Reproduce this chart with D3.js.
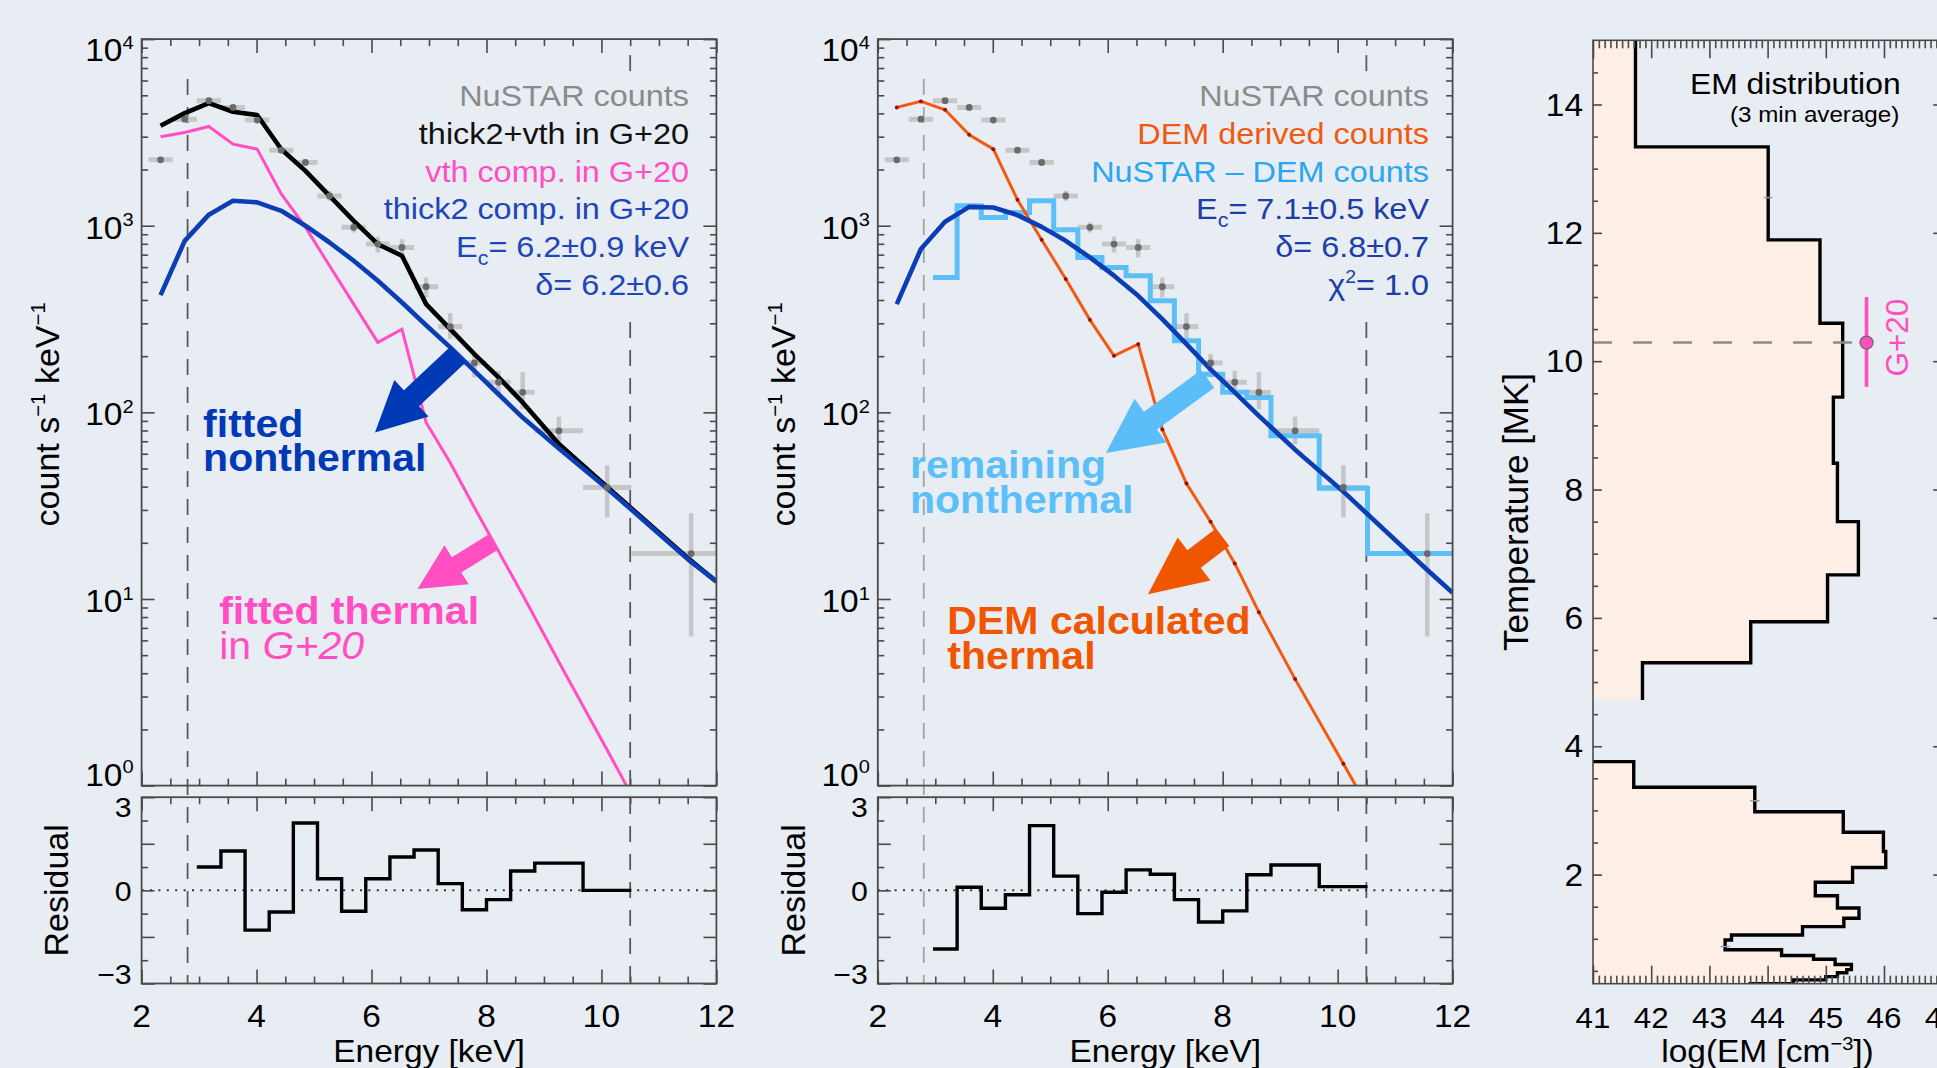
<!DOCTYPE html>
<html><head><meta charset="utf-8">
<script src="https://cdn.jsdelivr.net/npm/d3@7"></script>
<style>
html,body{margin:0;padding:0;background:#e8ecf3;}
svg{display:block;font-family:"Liberation Sans",Arial,Helvetica,sans-serif;}
</style></head>
<body><svg id="fig" width="1937" height="1068"></svg>
<script>
// ---------------- spectral binning (keV) ----------------
const binCenter = [2.33, 2.75, 3.17, 3.59, 4.01, 4.43, 4.85, 5.27, 5.69, 6.11, 6.53, 6.95, 7.37, 7.79, 8.21, 8.63, 9.26, 10.10, 11.56];
const binLo     = [2.12, 2.54, 2.96, 3.38, 3.80, 4.22, 4.64, 5.06, 5.48, 5.90, 6.32, 6.74, 7.16, 7.58, 8.00, 8.42, 8.84, 9.68, 10.52];
const binHi     = [2.54, 2.96, 3.38, 3.80, 4.22, 4.64, 5.06, 5.48, 5.90, 6.32, 6.74, 7.16, 7.58, 8.00, 8.42, 8.84, 9.68, 10.52, 12.60];

// NuSTAR count spectrum [counts s^-1 keV^-1] and its 1-sigma range
const nustarRate = [2254, 3725, 4677, 4306, 3681, 2541, 2183, 1445, 980, 797, 765, 471, 288, 184, 145, 128, 79.6, 39.6, 17.5];
const nustarLow  = [2190, 3630, 4560, 4190, 3570, 2450, 2100, 1362, 921, 719, 676, 413, 247, 154, 124, 104, 67.6, 27.4, 6.3];
const nustarHigh = [2320, 3820, 4800, 4420, 3790, 2630, 2270, 1538, 1042, 875, 847, 528, 340, 205, 167, 164, 94.6, 52.0, 28.8];

// model curves evaluated at these energies
const modelEnergy = [2.33, 2.75, 3.17, 3.59, 4.01, 4.43, 4.85, 5.27, 5.69, 6.11, 6.53, 6.95, 7.37, 7.79, 8.21, 8.63, 9.26, 10.10, 11.56, 12.0];

// left: G+20 fit (thick2 + vth)
const fitTotal   = [3436, 4010, 4540, 4080, 3920, 2570, 1968, 1446, 1062, 796, 690, 380, 279, 205, 154, 113, 67.6, 39.8, 16.0, 12.4];
const fitThermal = [3000, 3162, 3404, 2737, 2573, 1480, 982, 610, 380, 237, 279, 88.3, 53.7, 30.9, 18.0, 10.5, 4.6, 1.55, 0.23];
const fitThick2  = [425, 830, 1146, 1361, 1334, 1202, 1000, 813, 649, 507, 388, 293, 223, 167, 125, 93.8, 64.1, 39.1, 15.8, 12.4];

// middle: DEM-derived thermal counts and thick2 fit to the remainder
const demCounts    = [4305, 4637, 4180, 3071, 2573, 1377, 842, 518, 313, 201, 232, 81.0, 41.6, 25.9, 15.5, 8.5, 3.72, 1.31, 0.21];
const demThick2    = [380, 750, 1050, 1262, 1253, 1140, 986, 830, 676, 540, 421, 316, 232, 170, 128, 95.7, 63.1, 37.6, 14.3, 10.8];
const firstFitBin  = 2;   // fits use bins from 2.96 keV on
const nustarMinusDem = [528, 1279, 1107, 1178, 1361, 951, 676, 598, 539, 396, 242, 160, 128, 120, 75.0, 39.2, 17.5];

// normalised residuals, bins 2.96 - 10.52 keV
const residualG20 = [1.00, 1.69, -1.71, -0.93, 2.89, 0.50, -0.90, 0.50, 1.43, 1.73, 0.29, -0.83, -0.40, 0.83, 1.17, 0.00];
const residualDem = [-2.52, 0.13, -0.77, -0.19, 2.78, 0.61, -1.00, -0.08, 0.88, 0.69, -0.40, -1.36, -0.88, 0.67, 1.09, 0.16];

// fit range limits (keV)
const fitRange = [2.8, 10.5];

// ---------------- EM distribution ----------------
// temperature bin edges [MK], top to bottom, and log EM of each bin (null = below 10^41)
const tempEdges = [15, 13.34, 11.89, 10.59, 9.44, 8.41, 7.50, 6.67, 5.94, 5.30, 4.72, 3.76, 3.36, 2.98, 2.66, 2.36, 2.11, 1.88, 1.67, 1.48, 1.32, 1.19, 1.06, 0.98, 0.83, 0.74, 0.68, 0.60, 0.52, 0.47, 0.41, 0.36, 0.30, 0.25];
const logEM = [41.73, 44.01, 44.90, 45.29, 45.13, 45.20, 45.56, 45.03, 43.71, 41.85, null, 41.70, 43.78, 45.30, 45.99, 46.03, 45.46, 44.82, 45.20, 45.57, 45.31, 44.60, 43.38, 43.27, 44.24, 44.79, 45.16, 45.44, 45.36, 45.20, 45.00, 44.44, 43.70];
const emErrBars = [{em: 44.01, t: 12.55, d: 0.07}, {em: 43.78, t: 3.15, d: 0.08}, {em: 43.27, t: 0.88, d: 0.08}];
const g20Temp = {em: 45.70, t: 10.29, lo: 9.60, hi: 11.00};

const decades = [1, 10, 100, 1000, 10000];
const energyTicks = [2, 4, 6, 8, 10, 12];
const tempTicks = [2, 4, 6, 8, 10, 12, 14];
const emTicks = [41, 42, 43, 44, 45, 46, 47];

// ---------------- styling ----------------
const AX = "#4a4a4a";
const C = {
  gray: "#8a8a8a", err: "#c6c6c8", dot: "#6a6a6a",
  black: "#000", pink: "#ff4fc2", blue: "#0b3db4", blueText: "#1f46b8",
  orange: "#f25a12", orangeText: "#f05a10", node: "#9a1208",
  light: "#5cbff8", lightText: "#2ba6f0", darkBlueText: "#1c3ea6",
  fill: "#fdeee6"
};
const SX = 1.08;

const svg = d3.select("#fig");
const defs = svg.append("defs");

function rich(parent, x, y, parts, o) {
  const fs = o.size;
  const sx = o.sx === undefined ? SX : o.sx;
  const tr = `translate(${x},${y})` + (o.rotate ? ` rotate(${o.rotate})` : "") + ` scale(${sx},1)`;
  const t = parent.append("text")
    .attr("transform", tr)
    .attr("text-anchor", o.anchor || "start")
    .attr("font-size", fs)
    .attr("fill", o.color || "#000")
    .attr("font-weight", o.bold ? "bold" : null);
  let shift = 0;
  for (const p of parts) {
    const s = t.append("tspan").text(p.t);
    let target = 0, size = fs;
    if (p.sup) { target = -fs * 0.40; size = fs * 0.60; }
    if (p.sub) { target = fs * 0.26; size = fs * 0.66; }
    s.attr("dy", target - shift).attr("font-size", size);
    if (p.italic) s.attr("font-style", "italic");
    if (p.bold === true) s.attr("font-weight", "bold");
    if (p.bold === false) s.attr("font-weight", "normal");
    shift = target;
  }
  return t;
}

function tickAxis(g, axisFn, scale, values, size, transform) {
  g.append("g").attr("transform", transform)
    .call(axisFn(scale).tickValues(values).tickSize(-size).tickFormat(""))
    .call(s => s.select(".domain").remove())
    .call(s => s.selectAll("line").attr("stroke", AX).attr("stroke-width", 1.6));
}

function arrowPath(x1, y1, x2, y2, shaft, headW, headL) {
  const dx = x2 - x1, dy = y2 - y1, L = Math.hypot(dx, dy);
  const ux = dx / L, uy = dy / L, px = -uy, py = ux;
  const bx = x2 - ux * headL, by = y2 - uy * headL, s = shaft / 2, h = headW / 2;
  return d3.line()([
    [x1 + px * s, y1 + py * s], [bx + px * s, by + py * s], [bx + px * h, by + py * h],
    [x2, y2], [bx - px * h, by - py * h], [bx - px * s, by - py * s], [x1 - px * s, y1 - py * s]
  ]) + "Z";
}

// ---------------- spectral panels ----------------
const MAIN_TOP = 39.1, MAIN_BOT = 785.6, RES_TOP = 797.2, RES_BOT = 983.5;
const LEGEND_TOP = 76, LEGEND_BOT = 320;

function spectrumPanel(p) {
  const g = svg.append("g");
  const x = d3.scaleLinear([2, 12], [p.x0, p.x1]);
  const y = d3.scaleLog([1, 1e4], [MAIN_BOT, MAIN_TOP]);
  const yr = d3.scaleLinear([-4, 4], [RES_BOT, RES_TOP]);

  const cm = "clipm-" + p.id, cr = "clipr-" + p.id;
  defs.append("clipPath").attr("id", cm).append("rect")
    .attr("x", p.x0).attr("y", MAIN_TOP).attr("width", p.x1 - p.x0).attr("height", MAIN_BOT - MAIN_TOP);
  defs.append("clipPath").attr("id", cr).append("rect")
    .attr("x", p.x0).attr("y", RES_TOP).attr("width", p.x1 - p.x0).attr("height", RES_BOT - RES_TOP);

  // fit-range markers (the upper one stops short of the legend block)
  fitRange.forEach((e, i) => {
    const segs = i === 0
      ? [[MAIN_TOP + 40, RES_BOT]]
      : [[MAIN_TOP + 16, MAIN_TOP + 35], [LEGEND_BOT + 2, RES_BOT]];
    segs.forEach(([a, b]) => {
      g.append("line").attr("x1", x(e)).attr("x2", x(e)).attr("y1", a).attr("y2", b)
        .attr("stroke", p.rangeColors[i]).attr("stroke-width", 1.8).attr("stroke-dasharray", "16,12");
    });
  });

  const mg = g.append("g").attr("clip-path", `url(#${cm})`);
  // data error crosses
  binCenter.forEach((e, i) => {
    mg.append("line").attr("x1", x(binLo[i])).attr("x2", x(binHi[i]))
      .attr("y1", y(nustarRate[i])).attr("y2", y(nustarRate[i]))
      .attr("stroke", C.err).attr("stroke-width", 5);
    mg.append("line").attr("x1", x(e)).attr("x2", x(e))
      .attr("y1", y(nustarLow[i])).attr("y2", y(nustarHigh[i]))
      .attr("stroke", C.err).attr("stroke-width", 4.5);
  });

  const line = d3.line().x(d => x(d[0])).y(d => y(d[1]));
  const curve = vals => vals.map((v, i) => [modelEnergy[i], v]);
  const stepPts = vals => {
    const pts = vals.map((v, i) => [binLo[firstFitBin + i], v]);
    pts.push([binHi[firstFitBin + vals.length - 1], vals[vals.length - 1]]);
    return pts;
  };

  p.draw(mg, x, y, line, curve, stepPts);

  // data points
  binCenter.forEach((e, i) => {
    mg.append("circle").attr("cx", x(e)).attr("cy", y(nustarRate[i])).attr("r", 3.4).attr("fill", C.dot);
  });

  // annotation arrows and labels
  p.arrows.forEach(a => {
    g.append("path").attr("d", arrowPath(x(a.from[0]), y(a.from[1]), x(a.to[0]), y(a.to[1]), a.shaft, a.headW, a.headL))
      .attr("fill", a.color);
  });
  p.notes.forEach(n => rich(g, x(n.at[0]), y(n.at[1]), n.parts, {size: 38, color: n.color, bold: true}));

  // legend
  p.legend.forEach((l, i) => rich(g, p.legendX, 105.7 + i * 37.9, l.parts, {size: 30, color: l.color, anchor: "end"}));

  // residual panel
  const rg = g.append("g").attr("clip-path", `url(#${cr})`);
  rg.append("line").attr("x1", p.x0).attr("x2", p.x1).attr("y1", yr(0)).attr("y2", yr(0))
    .attr("stroke", "#333").attr("stroke-width", 2).attr("stroke-dasharray", "2,6.4");
  const rpts = p.residual.map((v, i) => [binLo[firstFitBin + i], v]);
  rpts.push([binHi[firstFitBin + p.residual.length - 1], p.residual[p.residual.length - 1]]);
  rg.append("path").attr("d", d3.line().x(d => x(d[0])).y(d => yr(d[1])).curve(d3.curveStepAfter)(rpts))
    .attr("fill", "none").attr("stroke", "#000").attr("stroke-width", 3.4);

  // frames and ticks
  [[MAIN_TOP, MAIN_BOT], [RES_TOP, RES_BOT]].forEach(([t, b]) => {
    g.append("rect").attr("x", p.x0).attr("y", t).attr("width", p.x1 - p.x0).attr("height", b - t)
      .attr("fill", "none").attr("stroke", AX).attr("stroke-width", 1.8);
  });
  const eMinor = d3.range(2.5, 12, 0.5).filter(v => v % 2 !== 0);
  [[MAIN_TOP, MAIN_BOT], [RES_TOP, RES_BOT]].forEach(([t, b]) => {
    tickAxis(g, d3.axisTop, x, energyTicks, 14, `translate(0,${t})`);
    tickAxis(g, d3.axisTop, x, eMinor, 7, `translate(0,${t})`);
    tickAxis(g, d3.axisBottom, x, energyTicks, 14, `translate(0,${b})`);
    tickAxis(g, d3.axisBottom, x, eMinor, 7, `translate(0,${b})`);
  });
  const logMinor = [];
  [1, 10, 100, 1000].forEach(d => { for (let k = 2; k <= 9; k++) logMinor.push(d * k); });
  tickAxis(g, d3.axisLeft, y, decades, 13, `translate(${p.x0},0)`);
  tickAxis(g, d3.axisLeft, y, logMinor, 6.5, `translate(${p.x0},0)`);
  tickAxis(g, d3.axisRight, y, decades, 13, `translate(${p.x1},0)`);
  tickAxis(g, d3.axisRight, y, logMinor, 6.5, `translate(${p.x1},0)`);
  tickAxis(g, d3.axisLeft, yr, [-4, -2, 0, 2, 4], 13, `translate(${p.x0},0)`);
  tickAxis(g, d3.axisLeft, yr, [-3, -1, 1, 3], 6.5, `translate(${p.x0},0)`);
  tickAxis(g, d3.axisRight, yr, [-4, -2, 0, 2, 4], 13, `translate(${p.x1},0)`);
  tickAxis(g, d3.axisRight, yr, [-3, -1, 1, 3], 6.5, `translate(${p.x1},0)`);

  // tick labels
  decades.forEach((d, i) => {
    const yy = y(d);
    const base = i === decades.length - 1 ? MAIN_TOP + 22.3 : (i === 0 ? MAIN_BOT : yy + 13);
    rich(g, p.x0 - 8, base, [{t: "10"}, {t: String(Math.round(Math.log10(d))), sup: true}], {size: 31, anchor: "end"});
  });
  [[3, RES_TOP + 19.4], [0, yr(0) + 10.4], [-3, RES_BOT]].forEach(([v, base]) => {
    rich(g, p.x0 - 10, base, [{t: v < 0 ? "\u2212" + Math.abs(v) : String(v)}], {size: 28, anchor: "end"});
  });
  energyTicks.forEach(e => rich(g, x(e), 1026.7, [{t: String(e)}], {size: 31, anchor: "middle"}));

  // axis titles
  rich(g, (p.x0 + p.x1) / 2, 1062, [{t: "Energy [keV]"}], {size: 31, anchor: "middle"});
  rich(g, p.x0 - 82.6, (MAIN_TOP + MAIN_BOT) / 2 + 2, [{t: "count s"}, {t: "\u22121", sup: true}, {t: " keV"}, {t: "\u22121", sup: true}],
    {size: 34, anchor: "middle", rotate: -90, sx: 1});
  rich(g, p.x0 - 73.3, (RES_TOP + RES_BOT) / 2, [{t: "Residual"}], {size: 34, anchor: "middle", rotate: -90, sx: 1});
}

// left: G+20 style fit
spectrumPanel({
  id: "g20", x0: 141.6, x1: 716.4, legendX: 689,
  rangeColors: ["#5a5a5a", "#5a5a5a"],
  residual: residualG20,
  draw(mg, x, y, line, curve) {
    mg.append("path").attr("d", line(curve(fitThermal))).attr("fill", "none").attr("stroke", C.pink).attr("stroke-width", 3);
    mg.append("path").attr("d", line(curve(fitTotal))).attr("fill", "none").attr("stroke", C.black).attr("stroke-width", 4.6).attr("stroke-linejoin", "round");
    mg.append("path").attr("d", line(curve(fitThick2))).attr("fill", "none").attr("stroke", C.blue).attr("stroke-width", 4.6).attr("stroke-linejoin", "round");
  },
  arrows: [
    {from: [7.51, 205], to: [6.06, 78.1], shaft: 22, headW: 50, headL: 50, color: "#0039b5"},
    {from: [8.13, 20.3], to: [6.80, 11.3], shaft: 18, headW: 46, headL: 46, color: "#ff4fc2"}
  ],
  notes: [
    {at: [3.07, 73.4], color: "#0039b5", parts: [{t: "fitted"}]},
    {at: [3.07, 48.4], color: "#0039b5", parts: [{t: "nonthermal"}]},
    {at: [3.35, 7.3], color: "#ff4fc2", parts: [{t: "fitted thermal"}]},
    {at: [3.35, 4.75], color: "#ff4fc2", parts: [{t: "in ", bold: false}, {t: "G+20", italic: true, bold: false}]}
  ],
  legend: [
    {color: C.gray, parts: [{t: "NuSTAR counts"}]},
    {color: "#111", parts: [{t: "thick2+vth in G+20"}]},
    {color: C.pink, parts: [{t: "vth comp. in G+20"}]},
    {color: C.blueText, parts: [{t: "thick2 comp. in G+20"}]},
    {color: C.blueText, parts: [{t: "E"}, {t: "c", sub: true}, {t: "= 6.2\u00b10.9 keV"}]},
    {color: C.blueText, parts: [{t: "\u03b4= 6.2\u00b10.6"}]}
  ]
});

// middle: DEM thermal + remaining nonthermal
spectrumPanel({
  id: "dem", x0: 877.8, x1: 1452.6, legendX: 1429,
  rangeColors: ["#a4a4a4", "#5a5a5a"],
  residual: residualDem,
  draw(mg, x, y, line, curve, stepPts) {
    mg.append("path").attr("d", d3.line().x(d => x(d[0])).y(d => y(d[1])).curve(d3.curveStepAfter)(stepPts(nustarMinusDem)))
      .attr("fill", "none").attr("stroke", C.light).attr("stroke-width", 5);
    mg.append("path").attr("d", line(curve(demCounts))).attr("fill", "none").attr("stroke", C.orange).attr("stroke-width", 3);
    demCounts.forEach((v, i) => mg.append("circle").attr("cx", x(modelEnergy[i])).attr("cy", y(v)).attr("r", 2).attr("fill", C.node));
    mg.append("path").attr("d", line(curve(demThick2))).attr("fill", "none").attr("stroke", C.blue).attr("stroke-width", 4.6).attr("stroke-linejoin", "round");
  },
  arrows: [
    {from: [7.74, 151], to: [5.97, 60.5], shaft: 22, headW: 54, headL: 55, color: "#5bbef8"},
    {from: [8.00, 21.4], to: [6.70, 10.6], shaft: 22, headW: 54, headL: 58, color: "#f05500"}
  ],
  notes: [
    {at: [2.56, 44.7], color: "#5cc0f8", parts: [{t: "remaining"}]},
    {at: [2.56, 28.9], color: "#5cc0f8", parts: [{t: "nonthermal"}]},
    {at: [3.21, 6.5], color: "#f05500", parts: [{t: "DEM calculated"}]},
    {at: [3.21, 4.19], color: "#f05500", parts: [{t: "thermal"}]}
  ],
  legend: [
    {color: C.gray, parts: [{t: "NuSTAR counts"}]},
    {color: C.orangeText, parts: [{t: "DEM derived counts"}]},
    {color: C.lightText, parts: [{t: "NuSTAR \u2013 DEM counts"}]},
    {color: C.darkBlueText, parts: [{t: "E"}, {t: "c", sub: true}, {t: "= 7.1\u00b10.5 keV"}]},
    {color: C.darkBlueText, parts: [{t: "\u03b4= 6.8\u00b10.7"}]},
    {color: C.darkBlueText, parts: [{t: "\u03c7"}, {t: "2", sup: true}, {t: "= 1.0"}]}
  ]
});

// ---------------- EM distribution panel ----------------
(function emPanel() {
  const X0 = 1593, X1 = 1942.2, T0 = 40.3, T1 = 983.7;
  const xe = d3.scaleLinear([41, 47], [X0, X1]);
  const yt = d3.scaleLinear([0.3, 15], [T1, T0]);
  const g = svg.append("g");
  defs.append("clipPath").attr("id", "clip-em").append("rect")
    .attr("x", X0).attr("y", T0).attr("width", X1 - X0).attr("height", T1 - T0);
  const pg = g.append("g").attr("clip-path", "url(#clip-em)");

  // split the histogram into runs of defined bins
  const runs = [];
  let cur = null;
  logEM.forEach((v, i) => {
    if (v === null) { cur = null; return; }
    if (!cur) { cur = {start: i, pts: []}; runs.push(cur); }
    cur.pts.push([v, tempEdges[i]], [v, tempEdges[i + 1]]);
  });
  const ln = d3.line().x(d => xe(d[0])).y(d => yt(d[1]));
  const xmin = xe.domain()[0];
  runs.forEach(r => {
    const top = r.pts[0][1], bot = r.pts[r.pts.length - 1][1];
    const poly = [[xmin, top], ...r.pts, [xmin, bot]];
    pg.append("path").attr("d", ln(poly) + "Z").attr("fill", C.fill);
  });
  runs.forEach(r => {
    const pts = r.start > 0 ? [[xmin, r.pts[0][1]], ...r.pts] : r.pts;
    pg.append("path").attr("d", ln(pts)).attr("fill", "none").attr("stroke", "#000")
      .attr("stroke-width", 3.4).attr("stroke-linejoin", "miter");
  });
  emErrBars.forEach(b => pg.append("line").attr("x1", xe(b.em - b.d)).attr("x2", xe(b.em + b.d))
    .attr("y1", yt(b.t)).attr("y2", yt(b.t)).attr("stroke", "#9a9a9a").attr("stroke-width", 1.6));

  // G+20 isothermal temperature
  pg.append("line").attr("x1", xe(41)).attr("x2", xe(g20Temp.em)).attr("y1", yt(g20Temp.t)).attr("y2", yt(g20Temp.t))
    .attr("stroke", "#8c8c8c").attr("stroke-width", 2.6).attr("stroke-dasharray", "19,21");
  pg.append("line").attr("x1", xe(g20Temp.em)).attr("x2", xe(g20Temp.em)).attr("y1", yt(g20Temp.lo)).attr("y2", yt(g20Temp.hi))
    .attr("stroke", "#ff4fc2").attr("stroke-width", 3.6);
  pg.append("circle").attr("cx", xe(g20Temp.em)).attr("cy", yt(g20Temp.t)).attr("r", 6.5)
    .attr("fill", "#ff4fc2").attr("stroke", "#666").attr("stroke-width", 1.2);
  rich(g, xe(g20Temp.em) + 41, yt(g20Temp.t) - 5, [{t: "G+20"}], {size: 31.5, color: "#ff4fc2", anchor: "middle", rotate: -90, sx: 1});

  // frame and ticks
  g.append("rect").attr("x", X0).attr("y", T0).attr("width", X1 - X0).attr("height", T1 - T0)
    .attr("fill", "none").attr("stroke", AX).attr("stroke-width", 1.6);
  const emMinor = d3.range(41.1, 47, 0.1).filter(v => Math.abs(v - Math.round(v)) > 0.01);
  tickAxis(g, d3.axisTop, xe, emTicks, 18, `translate(0,${T0})`);
  tickAxis(g, d3.axisTop, xe, emMinor, 8, `translate(0,${T0})`);
  tickAxis(g, d3.axisBottom, xe, emTicks, 18, `translate(0,${T1})`);
  tickAxis(g, d3.axisBottom, xe, emMinor, 8, `translate(0,${T1})`);
  const tMinor = d3.range(0.5, 15, 0.5).filter(v => v % 2 !== 0);
  tickAxis(g, d3.axisLeft, yt, tempTicks, 9, `translate(${X0},0)`);
  tickAxis(g, d3.axisLeft, yt, tMinor, 5, `translate(${X0},0)`);
  tickAxis(g, d3.axisRight, yt, tempTicks, 9, `translate(${X1},0)`);
  tickAxis(g, d3.axisRight, yt, tMinor, 5, `translate(${X1},0)`);

  tempTicks.forEach(t => rich(g, X0 - 10, yt(t) + 11.2, [{t: String(t)}], {size: 31, anchor: "end"}));
  emTicks.forEach(e => rich(g, xe(e), 1027.6, [{t: String(e)}], {size: 29, anchor: "middle"}));

  rich(g, 1528, (T0 + T1) / 2, [{t: "Temperature [MK]"}], {size: 35, anchor: "middle", rotate: -90, sx: 1});
  rich(g, 1767.5, 1062, [{t: "log(EM [cm"}, {t: "\u22123", sup: true}, {t: "])"}], {size: 31, anchor: "middle"});
  rich(g, 1690, 93.7, [{t: "EM distribution"}], {size: 29.5});
  rich(g, 1730, 122.2, [{t: "(3 min average)"}], {size: 22.4});
})();
</script>
</body></html>
